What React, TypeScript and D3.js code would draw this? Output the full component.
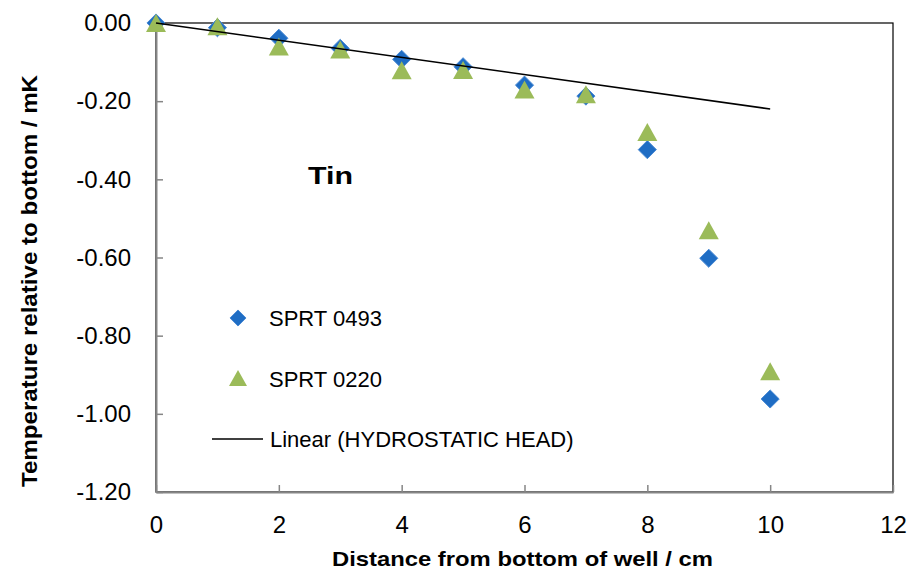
import React, { useEffect, useRef } from "react";
import * as d3 from "d3";

const distances = [0, 1, 2, 3, 4, 5, 6, 7, 8, 9, 10];
const sprt0493 = [0, -0.012, -0.039, -0.065, -0.093, -0.112, -0.159, -0.187, -0.324, -0.602, -0.962];
const sprt0220 = [0, -0.008, -0.06, -0.068, -0.121, -0.12, -0.17, -0.182, -0.279, -0.53, -0.891];
const trendX = [0, 10];
const trendY = [0, -0.22];
const xTicks = [0, 2, 4, 6, 8, 10, 12];
const yTicks = [0, -0.2, -0.4, -0.6, -0.8, -1.0, -1.2];
const seriesNames = ["SPRT 0493", "SPRT 0220", "Linear (HYDROSTATIC HEAD)"];

const W = 912;
const H = 580;
const M = { left: 156, right: 893, top: 23, bottom: 492 };
const FONT = "'Liberation Sans', Arial, sans-serif";
const BLUE = "#1F6DC4";
const BLUE_EDGE = "#4A8AD4";
const GREEN = "#9BBB59";
const AXIS = "#868686";

function trianglePath(w: number, h: number): string {
  const p = d3.path();
  p.moveTo(0, -h / 2);
  p.lineTo(w / 2, h / 2);
  p.lineTo(-w / 2, h / 2);
  p.closePath();
  return p.toString();
}

export default function App() {
  const ref = useRef<SVGSVGElement | null>(null);

  useEffect(() => {
    const svg = d3.select(ref.current);
    svg.selectAll("*").remove();

    const x = d3.scaleLinear().domain([0, 12]).range([M.left, M.right]);
    const y = d3.scaleLinear().domain([-1.2, 0]).range([M.bottom, M.top]);

    svg.append("rect").attr("width", W).attr("height", H).attr("fill", "#fff");

    // plot border
    svg
      .append("rect")
      .attr("x", M.left)
      .attr("y", M.top)
      .attr("width", M.right - M.left)
      .attr("height", M.bottom - M.top)
      .attr("fill", "none")
      .attr("stroke", "#000")
      .attr("stroke-width", 1.2);

    // axes
    const yAxis = svg
      .append("g")
      .attr("transform", `translate(${M.left},0)`)
      .call(
        d3
          .axisLeft(y)
          .tickValues(yTicks)
          .tickSizeInner(-7)
          .tickSizeOuter(0)
          .tickPadding(25)
          .tickFormat((d: any) => d3.format(".2f")(d).replace("−", "-"))
      );
    yAxis.select(".domain").attr("stroke", AXIS).attr("stroke-width", 2);
    yAxis.selectAll(".tick line").attr("stroke", AXIS).attr("stroke-width", 1.5);
    yAxis
      .selectAll(".tick text")
      .attr("font-family", FONT)
      .attr("font-size", 24)
      .attr("fill", "#000");

    const xAxis = svg
      .append("g")
      .attr("transform", `translate(0,${M.bottom})`)
      .call(
        d3
          .axisBottom(x)
          .tickValues(xTicks)
          .tickSizeInner(-7)
          .tickSizeOuter(0)
          .tickPadding(24)
          .tickFormat(d3.format("d") as any)
      );
    xAxis.select(".domain").attr("stroke", AXIS).attr("stroke-width", 2);
    xAxis.selectAll(".tick line").attr("stroke", AXIS).attr("stroke-width", 1.5);
    xAxis
      .selectAll(".tick text")
      .attr("font-family", FONT)
      .attr("font-size", 24)
      .attr("fill", "#000");

    const diamond = d3.symbol().type(d3.symbolDiamond2).size(210);
    const tri = trianglePath(20, 18);

    // SPRT 0493 diamonds
    svg
      .append("g")
      .selectAll("path")
      .data(distances.map((d, i) => [d, sprt0493[i]]))
      .join("path")
      .attr("d", diamond as any)
      .attr("transform", (d) => `translate(${x(d[0])},${y(d[1])})`)
      .attr("fill", BLUE)
      .attr("stroke", BLUE_EDGE)
      .attr("stroke-width", 1);

    // SPRT 0220 triangles
    svg
      .append("g")
      .selectAll("path")
      .data(distances.map((d, i) => [d, sprt0220[i]]))
      .join("path")
      .attr("d", tri)
      .attr("transform", (d) => `translate(${x(d[0])},${y(d[1])})`)
      .attr("fill", GREEN);

    // trend line
    const line = d3
      .line<number>()
      .x((d) => x(d))
      .y((_, i) => y(trendY[i]));
    svg
      .append("path")
      .attr("d", line(trendX) as string)
      .attr("fill", "none")
      .attr("stroke", "#000")
      .attr("stroke-width", 1.6);

    // "Tin"
    svg
      .append("text")
      .attr("x", 308)
      .attr("y", 184)
      .attr("font-family", FONT)
      .attr("font-weight", "bold")
      .attr("font-size", 24)
      .attr("textLength", 45)
      .attr("lengthAdjust", "spacingAndGlyphs")
      .text("Tin");

    // legend
    const lg = svg.append("g");
    lg.append("path")
      .attr("d", d3.symbol().type(d3.symbolDiamond2).size(165)() as string)
      .attr("transform", "translate(238,318)")
      .attr("fill", BLUE)
      .attr("stroke", BLUE_EDGE);
    lg.append("path")
      .attr("d", trianglePath(18, 16))
      .attr("transform", "translate(238,378)")
      .attr("fill", GREEN);
    lg.append("line")
      .attr("x1", 212)
      .attr("x2", 263)
      .attr("y1", 439)
      .attr("y2", 439)
      .attr("stroke", "#000")
      .attr("stroke-width", 1.6);
    const ly = [326, 386.5, 446.5];
    const lx = [269, 269, 270];
    seriesNames.forEach((n, i) => {
      lg.append("text")
        .attr("x", lx[i])
        .attr("y", ly[i])
        .attr("font-family", FONT)
        .attr("font-size", 22)
        .text(n);
    });

    // axis titles
    svg
      .append("text")
      .attr("x", 522.5)
      .attr("y", 566)
      .attr("text-anchor", "middle")
      .attr("font-family", FONT)
      .attr("font-weight", "bold")
      .attr("font-size", 21)
      .attr("textLength", 381)
      .attr("lengthAdjust", "spacingAndGlyphs")
      .text("Distance from bottom of well / cm");

    svg
      .append("text")
      .attr("transform", "translate(37,281) rotate(-90)")
      .attr("text-anchor", "middle")
      .attr("font-family", FONT)
      .attr("font-weight", "bold")
      .attr("font-size", 22)
      .attr("textLength", 412)
      .attr("lengthAdjust", "spacingAndGlyphs")
      .text("Temperature relative to bottom / mK");
  }, []);

  return (
    <svg
      ref={ref}
      width={W}
      height={H}
      style={{ position: "absolute", left: 0, top: 0, display: "block" }}
    />
  );
}
